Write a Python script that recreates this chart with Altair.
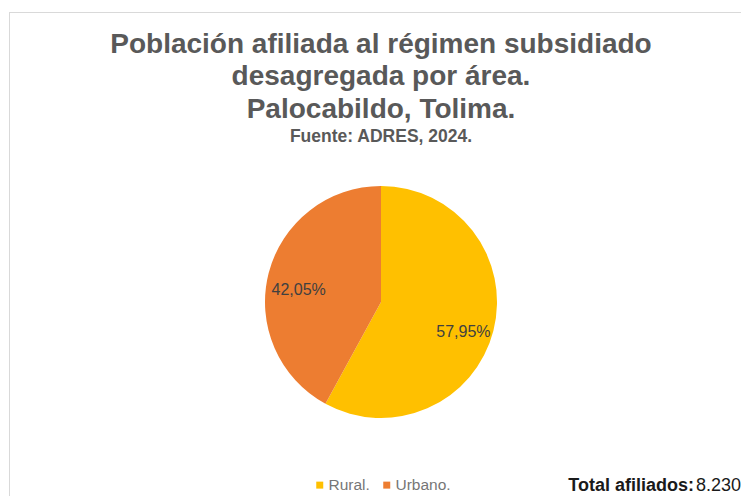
import altair as alt
import pandas as pd

categories = ["Rural.", "Urbano."]
percentages = [57.95, 42.05]
labels = ["57,95%", "42,05%"]
colors = ["#FFC000", "#ED7D31"]
title_lines = ["Población afiliada al régimen subsidiado", "desagregada por área.", "Palocabildo, Tolima."]
source_line = "Fuente: ADRES, 2024."
total_label = "Total afiliados:"
total_value = "8.230"

df = pd.DataFrame({"area": categories, "pct": percentages, "label": labels, "order": [0, 1]})

CX, CY, R = 373, 294, 116
FONT = "Liberation Sans"

base = alt.Chart(df).encode(
    theta=alt.Theta("pct:Q", stack=True),
    order=alt.Order("order:Q"),
)

pie = base.mark_arc(outerRadius=R).encode(
    x=alt.value(CX), y=alt.value(CY),
    color=alt.Color("area:N", scale=alt.Scale(domain=categories, range=colors),
                    legend=alt.Legend(orient="none", legendX=304, legendY=469, direction="horizontal",
                                      title=None, symbolType="square", symbolSize=49,
                                      labelFontSize=15.5, labelColor="#767676", labelFont=FONT,
                                      columnPadding=9, symbolOffset=0, labelOffset=1, padding=0)),
)

txt = base.mark_text(radius=85, dy=9, fontSize=16, font=FONT, color="#404040").encode(
    x=alt.value(CX), y=alt.value(CY), text="label:N",
)


def line(text, y, size, weight="bold", color="#595959", x=373, align="center"):
    return alt.Chart(pd.DataFrame({"t": [text]})).mark_text(
        fontSize=size, fontWeight=weight, font=FONT, color=color, align=align, baseline="alphabetic"
    ).encode(x=alt.value(x), y=alt.value(y), text="t:N")


t1 = line(title_lines[0], 45, 28)
t2 = line(title_lines[1], 77, 28)
t3 = line(title_lines[2], 110, 28)
sub = line(source_line, 134, 17.5)

tot1 = line(total_label, 483, 18, color="#1a1a1a", x=686, align="right")
tot2 = line(total_value, 483, 18, weight="normal", color="#1a1a1a", x=733, align="right")

border_left = alt.Chart(pd.DataFrame({"a": [0]})).mark_rule(color="#d9d9d9", strokeWidth=1).encode(
    x=alt.value(1.5), y=alt.value(4), y2=alt.value(488))
border_top = alt.Chart(pd.DataFrame({"a": [0]})).mark_rule(color="#d9d9d9", strokeWidth=1).encode(
    x=alt.value(1), x2=alt.value(733), y=alt.value(4.5))

chart = alt.layer(border_left, border_top, pie, txt, t1, t2, t3, sub, tot1, tot2).properties(
    width=733, height=488, autosize=alt.AutoSizeParams(type="none"), padding=0, background="white"
).configure_view(stroke=None)

chart.save("out.html", embed_options={"renderer": "svg", "actions": False})
